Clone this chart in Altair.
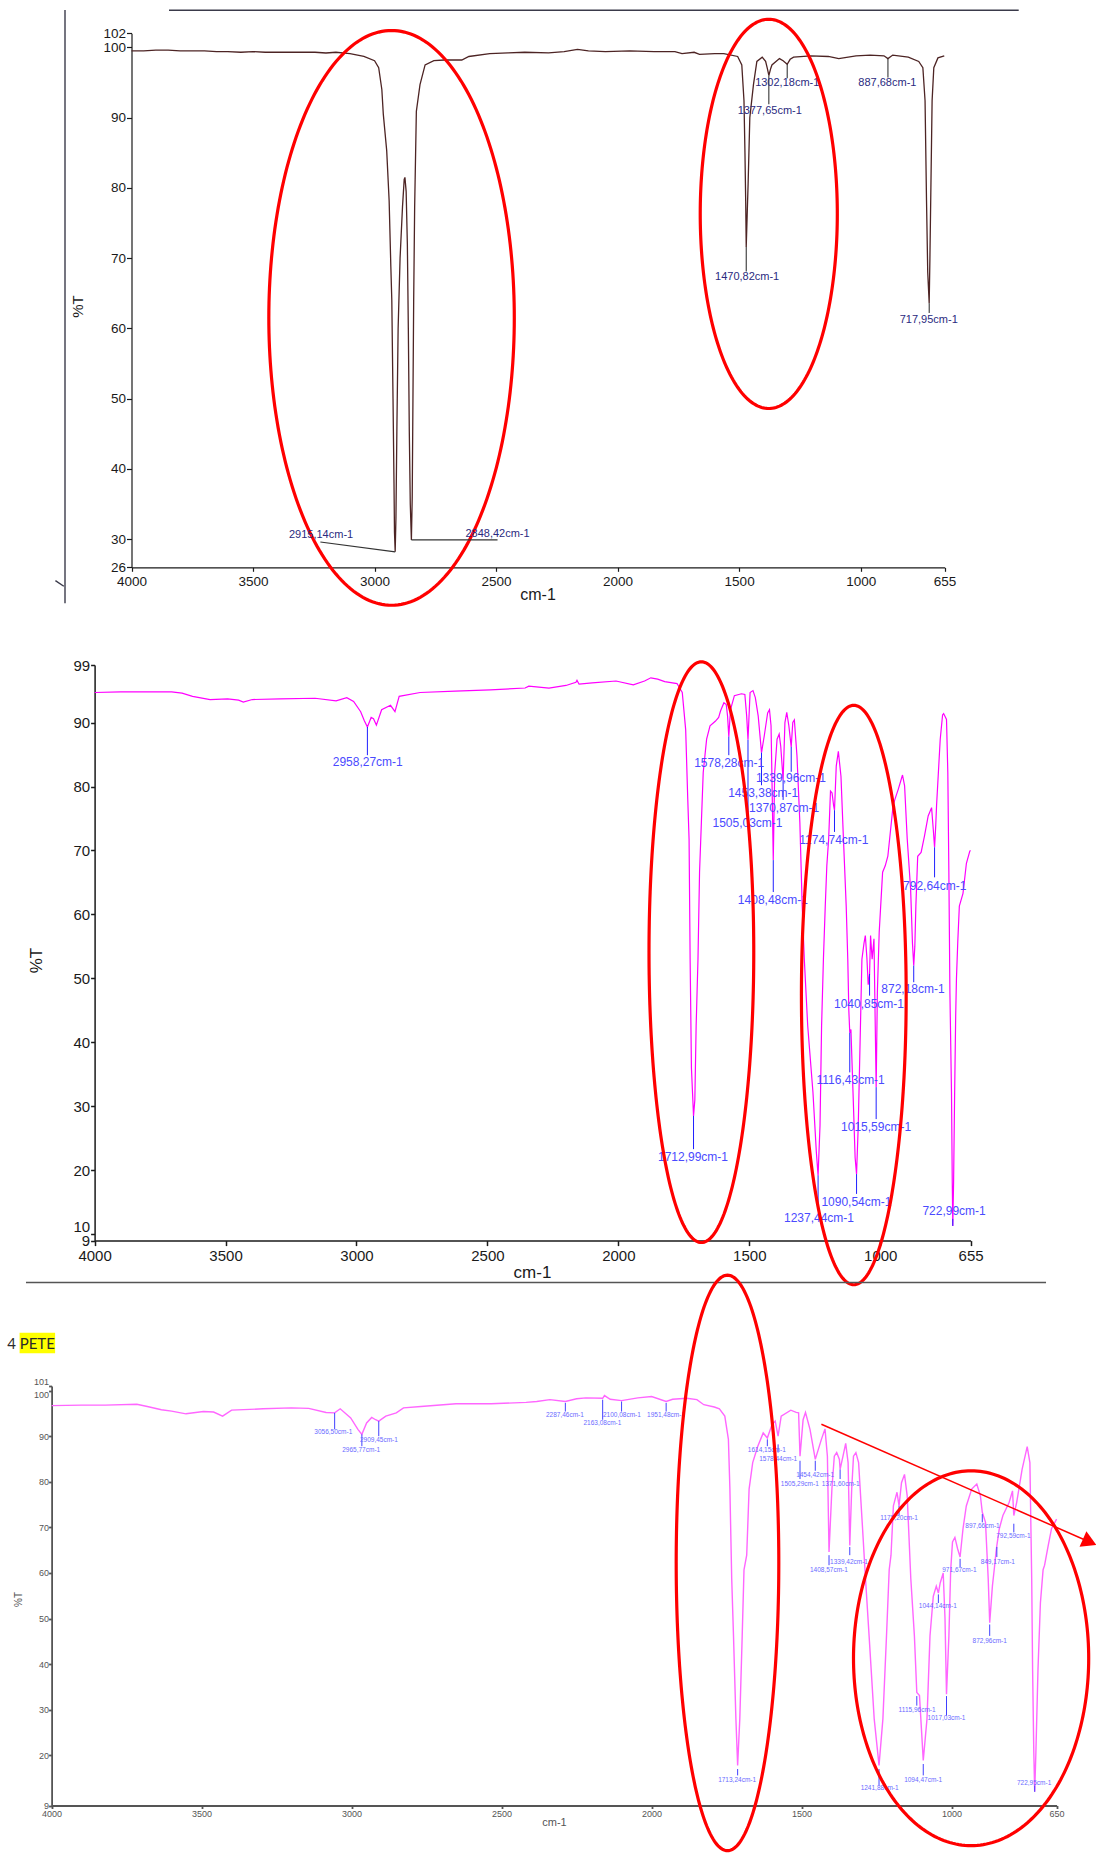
import altair as alt
import numpy as np
import pandas as pd

W, H = 1096, 1854
FONT = "Liberation Sans"

# ---------------- spectrum 1 (polyethylene) ----------------
P1_POINTS = [
    (4000, 99.5), (3950, 99.5), (3900, 99.6), (3849, 99.6), (3800, 99.5), (3748, 99.5),
    (3700, 99.5), (3650, 99.4), (3604, 99.4), (3550, 99.3), (3500, 99.4), (3450, 99.3),
    (3389, 99.3), (3300, 99.3), (3245, 99.3), (3200, 99.2), (3159, 99.3), (3101, 99.1),
    (3044, 98.7), (3000, 98.1), (2983, 97.1), (2970, 94.0), (2964, 90.5), (2950, 85.3),
    (2940, 78.2), (2933, 68.8), (2929, 64.0), (2924, 50.0), (2920, 38.0), (2918, 31.0),
    (2915.1, 28.2), (2912, 33.0), (2908, 46.0), (2903, 60.0), (2895, 70.0), (2885, 77.3),
    (2878, 81.2), (2875, 81.5), (2870, 79.5), (2865, 72.0), (2861, 60.0), (2857, 45.3),
    (2853, 35.0), (2848.4, 29.9), (2845, 36.0), (2842, 50.0), (2839, 64.0), (2835, 77.3),
    (2828, 90.9), (2813, 94.7), (2792, 97.5), (2756, 98.1), (2713, 98.2), (2641, 98.2),
    (2612, 98.7), (2526, 99.1), (2450, 99.2), (2382, 99.3), (2284, 99.2), (2220, 99.4),
    (2165, 99.7), (2120, 99.5), (2050, 99.4), (1950, 99.5), (1850, 99.4), (1764, 99.4),
    (1735, 99.1), (1685, 99.3), (1663, 99.0), (1600, 99.1), (1563, 99.1), (1506, 98.7),
    (1489, 97.5), (1480, 92.4), (1476, 85.0), (1473, 78.2), (1470.8, 71.6), (1467, 76.0),
    (1463, 80.6), (1456, 90.0), (1441, 94.7), (1427, 98.0), (1405, 98.6), (1391, 98.0),
    (1384, 97.0), (1377.7, 96.0), (1370, 97.0), (1365, 97.5), (1334, 98.4), (1319, 98.1),
    (1302.2, 97.6), (1290, 98.3), (1276, 98.6), (1205, 98.8), (1133, 98.7), (1090, 98.4),
    (1019, 98.8), (961, 98.9), (904, 98.8), (887.7, 98.4), (868, 98.9), (804, 98.6),
    (761, 98.0), (744, 97.1), (735, 92.4), (729, 78.2), (724, 68.0), (718, 63.6),
    (715, 70.0), (711, 80.0), (706, 92.4), (699, 97.1), (682, 98.5), (656, 98.8),
]
P1_PEAK_TEXT = ["1470,82cm-1", "1377,65cm-1", "1302,18cm-1", "887,68cm-1", "717,95cm-1"]
P1_PEAK_WN = [1470.8, 1377.7, 1302.2, 887.7, 718.0]
P1_PEAK_TOP = [71.6, 96.0, 97.6, 98.4, 63.6]
P1_PEAK_BOT = [68.1, 91.9, 95.6, 95.7, 62.2]
P1_LABEL_WN = [1467, 1374, 1302, 890, 720]
P1_LABEL_T = [67.3, 90.9, 94.9, 94.9, 61.2]
# labels with slanted / horizontal leaders
P1_LEAD_TEXT = ["2915,14cm-1", "2848,42cm-1"]
P1_LEAD_WN = [2915.1, 2848.4]
P1_LEAD_T = [28.2, 29.9]
P1_LEAD_WN2 = [3223, 2494]
P1_LEAD_T2 = [29.6, 29.9]
P1_LEAD_LABEL_WN = [3220, 2494]
P1_LEAD_LABEL_T = [30.6, 30.8]
P1_RINGS = [(2930, 61.5, 505, 40.9), (1378, 76.3, 282, 27.7)]

# ---------------- spectrum 2 ----------------
P2_POINTS = [
    (4000, 94.7), (3900, 94.8), (3786, 94.8), (3706, 94.8), (3666, 94.6), (3626, 94.1),
    (3559, 93.6), (3492, 93.7), (3450, 93.5), (3432, 93.2), (3398, 93.6), (3291, 93.7),
    (3158, 93.8), (3078, 93.4), (3037, 93.9), (3011, 93.3), (2984, 91.7), (2970, 90.3),
    (2958.3, 89.3), (2944, 90.8), (2935, 90.6), (2924, 89.6), (2904, 92.0), (2870, 92.7),
    (2853, 91.7), (2837, 94.1), (2757, 94.7), (2623, 94.9), (2489, 95.1), (2356, 95.4),
    (2342, 95.7), (2265, 95.4), (2200, 95.8), (2162, 96.3), (2158, 96.6), (2150, 96.0),
    (2100, 96.2), (2009, 96.5), (1943, 95.9), (1900, 96.5), (1876, 97.0), (1850, 96.8),
    (1823, 96.4), (1776, 96.1), (1756, 94.7), (1743, 88.9), (1735, 78.0), (1730, 71.8),
    (1726, 53.0), (1721, 36.0), (1713, 28.5), (1708, 31.0), (1703, 42.6), (1696, 53.0),
    (1690, 66.6), (1683, 74.4), (1676, 82.2), (1663, 87.4), (1650, 89.5), (1630, 90.2),
    (1617, 90.8), (1610, 91.8), (1597, 93.1), (1588, 92.8), (1583, 91.0), (1578.3, 87.8),
    (1572, 92.0), (1557, 94.2), (1530, 94.5), (1517, 94.4), (1510, 91.0), (1505, 87.3),
    (1500, 92.0), (1497, 94.7), (1486, 95.0), (1477, 93.9), (1466, 91.0), (1453.4, 85.3),
    (1443, 87.9), (1430, 91.5), (1423, 92.0), (1417, 89.5), (1413, 80.0), (1408.5, 68.5),
    (1403, 82.2), (1394, 87.4), (1386, 88.2), (1380, 86.3), (1370.9, 81.0), (1364, 90.0),
    (1357, 91.6), (1349, 89.5), (1340, 86.2), (1334, 90.0), (1328, 90.4), (1318, 84.8),
    (1307, 74.4), (1298, 61.3), (1290, 53.0), (1277, 42.6), (1257, 32.2), (1244, 22.8),
    (1237.4, 19.2), (1230, 27.0), (1224, 42.6), (1217, 53.0), (1210, 61.3), (1204, 67.6),
    (1197, 71.8), (1190, 79.3), (1184, 79.0), (1178, 77.0), (1174.7, 76.3), (1168, 83.2),
    (1160, 85.5), (1150, 81.6), (1141, 72.3), (1130, 61.3), (1124, 53.0), (1120, 45.0),
    (1116.4, 41.5), (1112, 42.0), (1104, 32.2), (1096, 22.0), (1090.5, 19.4), (1084, 27.0),
    (1077, 40.0), (1070, 53.0), (1062, 55.5), (1057, 56.7), (1051, 53.2), (1046, 49.0),
    (1040.8, 50.7), (1037, 56.7), (1031, 53.0), (1024, 56.2), (1020, 45.0), (1015.6, 33.0),
    (1011, 47.8), (1004, 57.2), (991, 66.6), (981, 67.6), (971, 69.1), (951, 77.0),
    (944, 78.0), (931, 79.6), (915, 81.8), (907, 80.1), (897, 71.8), (884, 63.9),
    (877, 55.5), (872.2, 52.0), (868, 55.0), (864, 61.3), (857, 69.1), (844, 69.7),
    (831, 72.3), (817, 75.4), (804, 76.7), (797, 73.0), (792.6, 70.5), (788, 74.0),
    (785, 77.0), (771, 87.4), (762, 91.2), (758, 91.4), (747, 90.5), (742, 82.2),
    (738, 66.6), (734, 47.8), (728, 32.2), (725, 18.0), (723, 11.3), (720, 18.0),
    (716, 32.0), (712, 44.0), (709, 50.0), (704, 55.7), (698, 61.3), (684, 63.3),
    (671, 68.0), (658, 69.9), (655, 70.0),
]
P2_PEAK_TEXT = ["2958,27cm-1", "1578,28cm-1", "1339,96cm-1", "1453,38cm-1", "1370,87cm-1",
                "1505,03cm-1", "1408,48cm-1", "1174,74cm-1", "792,64cm-1", "872,18cm-1",
                "1040,85cm-1", "1116,43cm-1", "1015,59cm-1", "1712,99cm-1", "1090,54cm-1",
                "1237,44cm-1", "722,99cm-1"]
P2_PEAK_WN = [2958.3, 1578.3, 1340, 1453.4, 1370.9, 1505, 1408.5, 1174.7, 792.6, 872.2,
              1040.8, 1116.4, 1015.6, 1713, 1090.5, 1237.4, 723]
P2_PEAK_TOP = [89.3, 87.8, 86.2, 85.3, 81.0, 87.3, 68.5, 76.3, 70.5, 52.0,
               50.7, 41.5, 33.0, 28.5, 19.4, 19.2, 12.4]
P2_PEAK_BOT = [84.9, 84.9, 82.3, 80.2, 77.9, 75.5, 63.5, 72.9, 65.8, 49.4,
               47.3, 35.3, 28.0, 23.3, 16.3, 14.5, 11.3]
P2_LABEL_WN = [2957, 1577, 1341, 1447, 1367, 1507, 1410, 1177, 792, 875,
               1043, 1113, 1016, 1715, 1091, 1234, 718]
P2_LABEL_T = [83.8, 83.6, 81.3, 79.0, 76.7, 74.3, 62.2, 71.7, 64.5, 48.3,
              46.0, 34.1, 26.8, 22.0, 15.1, 12.6, 13.7]
P2_RINGS = [(1683, 54.1, 200, 45.4), (1101, 47.4, 200, 45.3)]

# ---------------- spectrum 3 (PETE) ----------------
P3_POINTS = [
    (4000, 96.7), (3900, 96.8), (3821, 96.8), (3716, 97.0), (3681, 96.5), (3634, 95.8),
    (3600, 95.5), (3552, 94.9), (3494, 95.4), (3460, 95.3), (3430, 94.4), (3400, 95.7),
    (3295, 96.0), (3201, 96.2), (3143, 96.1), (3085, 95.2), (3056.5, 95.1), (3038, 96.0),
    (3003, 94.0), (2979, 91.5), (2965.8, 90.4), (2950, 92.9), (2933, 94.1), (2920, 93.6),
    (2909.5, 93.3), (2886, 94.4), (2851, 95.1), (2827, 96.2), (2769, 96.5), (2652, 97.1),
    (2535, 97.1), (2418, 97.4), (2383, 97.6), (2339, 98.0), (2287.5, 97.6), (2250, 98.2),
    (2219, 98.4), (2163.1, 98.3), (2157, 98.9), (2138, 98.1), (2100.1, 97.8), (2046, 98.4),
    (2000, 98.7), (1951.5, 97.6), (1930, 98.1), (1883, 98.3), (1849, 98.0), (1826, 96.9),
    (1791, 96.4), (1774, 96.0), (1756, 94.4), (1744, 89.3), (1739, 78.4), (1733, 58.8),
    (1727, 46.2), (1719, 28.0), (1713.2, 17.8), (1706, 28.0), (1698, 46.2), (1692, 60.7),
    (1683, 63.9), (1675, 78.4), (1663, 84.2), (1646, 87.8), (1628, 90.7), (1614.2, 89.6),
    (1599, 92.5), (1588, 93.3), (1578.4, 90.0), (1568, 94.4), (1536, 95.7), (1518, 95.2),
    (1510, 95.1), (1505.3, 85.6), (1495, 93.6), (1487, 95.2), (1472, 91.5), (1454.4, 84.9),
    (1434, 89.3), (1422, 91.6), (1414, 85.6), (1408.6, 64.6), (1399, 78.4), (1391, 85.6),
    (1383, 86.4), (1374, 84.9), (1371.6, 82.7), (1362, 85.6), (1353, 88.4), (1345, 84.2),
    (1339.4, 66.0), (1333, 78.4), (1327, 85.6), (1319, 86.4), (1310, 84.2), (1298, 71.1),
    (1287, 58.8), (1275, 46.2), (1258, 28.0), (1241.9, 17.8), (1229, 28.0), (1217, 46.2),
    (1208, 60.7), (1202, 63.9), (1194, 74.7), (1182, 77.7), (1175.2, 74.7), (1167, 79.8),
    (1157, 81.6), (1148, 76.9), (1136, 58.8), (1124, 46.2), (1116, 33.8), (1107, 33.1),
    (1098, 22.9), (1094.5, 18.9), (1082, 28.0), (1072, 46.2), (1061, 54.9), (1051, 57.1),
    (1044.1, 55.6), (1038, 57.8), (1028, 60.0), (1022, 50.0), (1017, 33.4), (1009, 46.2),
    (1003, 60.7), (997, 66.8), (989, 67.8), (980, 65.3), (971.7, 63.5), (962, 69.7),
    (951, 74.7), (933, 78.4), (916, 79.5), (904, 76.9), (897.7, 73.3), (887, 71.1),
    (878, 58.8), (873, 49.1), (864, 57.1), (858, 60.7), (852, 64.5), (849.2, 66.0),
    (841, 69.7), (829, 72.6), (808, 75.5), (797, 78.0), (792.6, 72.6), (783, 75.5),
    (765, 82.7), (748, 87.7), (739, 84.2), (733, 58.8), (730, 38.9), (726, 20.7),
    (723, 12.0), (719, 20.7), (712, 38.9), (704, 53.4), (695, 60.7), (690, 61.7),
    (678, 66.0), (667, 69.7), (650, 71.8),
]
P3_PEAK_TEXT = ["3056,50cm-1", "2965,77cm-1", "2909,45cm-1", "2287,46cm-1", "2163,08cm-1",
                "2100,08cm-1", "1951,48cm-1", "1614,15cm-1", "1578,44cm-1", "1505,29cm-1",
                "1454,42cm-1", "1371,60cm-1", "1408,57cm-1", "1339,42cm-1", "1175,20cm-1",
                "897,66cm-1", "792,59cm-1", "849,17cm-1", "971,67cm-1", "1044,14cm-1",
                "872,96cm-1", "1115,96cm-1", "1017,03cm-1", "1713,24cm-1", "1094,47cm-1",
                "1241,88cm-1", "722,95cm-1"]
P3_PEAK_WN = [3056.5, 2965.8, 2909.5, 2287.5, 2163.1, 2100.1, 1951.5, 1614.2, 1578.4, 1505.3,
              1454.4, 1371.6, 1408.6, 1339.4, 1175.2, 897.7, 792.6, 849.2, 971.7, 1044.1,
              873, 1116, 1017, 1713.2, 1094.5, 1241.9, 723]
P3_PEAK_TOP = [95.1, 90.4, 93.3, 97.3, 98.0, 97.6, 97.3, 89.3, 88.2, 84.6,
               84.6, 82.7, 63.9, 65.7, 74.7, 72.9, 70.8, 65.7, 63.1, 55.3,
               48.7, 33.0, 33.0, 17.0, 18.1, 17.0, 13.4]
P3_PEAK_BOT = [91.5, 87.8, 90.0, 95.4, 93.6, 95.4, 95.4, 87.8, 86.4, 80.6,
               82.4, 80.6, 61.7, 63.9, 72.6, 71.1, 68.9, 63.5, 61.3, 53.4,
               46.2, 30.9, 28.7, 15.6, 15.6, 13.4, 12.0]
P3_LABEL_WN = [3061, 2968, 2909, 2289, 2164, 2099, 1952, 1616, 1578, 1506,
               1455, 1370, 1409, 1342, 1175, 897, 794, 846, 974, 1046,
               873, 1115, 1017, 1715, 1095, 1240, 725]
P3_LABEL_T = [90.9, 87.0, 89.1, 94.6, 92.8, 94.6, 94.6, 87.0, 85.1, 79.6,
              81.5, 79.6, 60.6, 62.5, 72.0, 70.2, 68.2, 62.5, 60.6, 52.7,
              45.1, 30.0, 28.1, 14.7, 14.7, 12.8, 13.9]
P3_RINGS = [(1747, 62.2, 171, 63.1), (935, 41.3, 392, 41.1)]
P3_ARROW_WN = [1434, 540]
P3_ARROW_T = [92.6, 66.8]

# ---------------- scales: each spectrum gets its own slot on the page ----------------
def lin(domain, rng):
    return alt.Scale(domain=domain, range=rng, nice=False, zero=False)

SX1, SY1 = lin([4000, 655], [131.5, 944.5]), lin([26, 102], [567.3, 33.3])
SX2, SY2 = lin([4000, 655], [94.6, 970.6]), lin([9, 99], [1240.6, 665.0])
SX3, SY3 = lin([4000, 650], [51.6, 1056.6]), lin([9, 101], [1805.5, 1386.0])


def x_axis(values, ypos, size, pad, title_x, title_y, title_size, color, width):
    return alt.Axis(
        orient="bottom", offset=ypos - H, values=values, format="d", grid=False,
        labelOverlap=False, labelFlush=False, labelBound=False,
        tickSize=size[0], labelPadding=pad, labelFont=FONT, labelFontSize=size[1],
        labelColor=color, domainColor=color, tickColor=color, domainWidth=width,
        tickWidth=width, title="cm-1", titleFont=FONT, titleFontSize=title_size,
        titleFontWeight="normal", titleColor=color, titleX=title_x, titleY=title_y,
        titleAlign="center", titleBaseline="middle",
    )


def y_axis(values, xpos, size, pad, title_x, title_y, title_size, color, width, baseline):
    return alt.Axis(
        orient="left", offset=-xpos, values=values, format="d", grid=False,
        labelOverlap=False, labelFlush=False, labelBound=False,
        labelBaseline=alt.ExprRef(expr=baseline),
        tickSize=size[0], labelPadding=pad, labelFont=FONT, labelFontSize=size[1],
        labelColor=color, domainColor=color, tickColor=color, domainWidth=width,
        tickWidth=width, title="%T", titleFont=FONT, titleFontSize=title_size,
        titleFontWeight="normal", titleColor=color, titleX=title_x, titleY=title_y,
        titleAngle=270, titleAlign="center", titleBaseline="middle",
    )


def rings(shapes):
    rows = []
    t = np.linspace(0, 2 * np.pi, 241)
    for k, (cx, cy, rx, ry) in enumerate(shapes):
        for i, a in enumerate(t):
            rows.append({"id": k, "i": i, "x": cx + rx * np.cos(a), "y": cy + ry * np.sin(a)})
    return pd.DataFrame(rows)


def pos(sx, sy, xf, yf):
    return dict(x=alt.X(xf, type="quantitative", scale=sx, axis=None),
                y=alt.Y(yf, type="quantitative", scale=sy, axis=None))


def panel(points, sx, sy, xaxis, yaxis, line_color, line_width, peaks, tick_color,
          label_color, label_size, ring_shapes, ring_width):
    df = pd.DataFrame(points, columns=["wn", "t"])
    line = alt.Chart(df).mark_line(color=line_color, strokeWidth=line_width).encode(
        x=alt.X("wn:Q", scale=sx, axis=xaxis),
        y=alt.Y("t:Q", scale=sy, axis=yaxis),
    )
    text, wn, top, bot, lx, ly = peaks
    pk = pd.DataFrame({"label": text, "wn": wn, "top": top, "bot": bot, "lx": lx, "ly": ly})
    ticks = alt.Chart(pk).mark_rule(color=tick_color, strokeWidth=1).encode(
        **pos(sx, sy, "wn", "top"), y2="bot:Q")
    labels = alt.Chart(pk).mark_text(font=FONT, fontSize=label_size, color=label_color,
                                     align="center", baseline="middle").encode(
        **pos(sx, sy, "lx", "ly"), text="label:N")
    ring = alt.Chart(rings(ring_shapes)).mark_line(
        color="#ff0000", strokeWidth=ring_width, strokeCap="round").encode(
        **pos(sx, sy, "x", "y"), detail="id:N", order="i:Q")
    return [line, ticks, labels, ring]


layers = []

# ---- panel 1 ----
layers += panel(
    P1_POINTS, SX1, SY1,
    x_axis([4000, 3500, 3000, 2500, 2000, 1500, 1000, 655], 567.3, (4, 13.5), 3,
           537.5, 27.4, 16, "#1a1a1a", 1.2),
    y_axis([26, 30, 40, 50, 60, 70, 80, 90, 100, 102], 131.5, (5, 13.5), 1,
           -54, 306, 15, "#1a1a1a", 1.2, "'middle'"),
    "#4d2424", 1.3,
    (P1_PEAK_TEXT, P1_PEAK_WN, P1_PEAK_TOP, P1_PEAK_BOT, P1_LABEL_WN, P1_LABEL_T),
    "#222222", "#2a2a80", 11, P1_RINGS, 3.2,
)
lead = pd.DataFrame({"label": P1_LEAD_TEXT, "x1": P1_LEAD_WN, "y1": P1_LEAD_T,
                     "x2": P1_LEAD_WN2, "y2": P1_LEAD_T2,
                     "lx": P1_LEAD_LABEL_WN, "ly": P1_LEAD_LABEL_T})
layers.append(alt.Chart(lead).mark_rule(color="#333333", strokeWidth=1.2).encode(
    **pos(SX1, SY1, "x1", "y1"), x2="x2:Q", y2="y2:Q"))
layers.append(alt.Chart(lead).mark_text(font=FONT, fontSize=11, color="#2a2a80",
                                        align="center", baseline="middle").encode(
    **pos(SX1, SY1, "lx", "ly"), text="label:N"))
# frame lines around the first spectrum
frame1 = pd.DataFrame({"x1": [4273.6, 3845.7, 4313.1], "y1": [105.3, 105.27, 24.1],
                       "x2": [4273.6, 349.7, 4278.5], "y2": [20.9, 105.27, 23.3]})
layers.append(alt.Chart(frame1).mark_rule(color="#3a3a4a", strokeWidth=1.4).encode(
    **pos(SX1, SY1, "x1", "y1"), x2="x2:Q", y2="y2:Q"))

# ---- panel 2 ----
layers += panel(
    P2_POINTS, SX2, SY2,
    x_axis([4000, 3500, 3000, 2500, 2000, 1500, 1000, 655], 1240.6, (5, 15), 3,
           532, 32, 17, "#1a1a1a", 1.5),
    y_axis([9, 10, 20, 30, 40, 50, 60, 70, 80, 90, 99], 94.6, (4, 15), 1,
           -58, 960, 17, "#1a1a1a", 1.5,
           "datum.value == 10 ? 'bottom' : 'middle'"),
    "#ff00ff", 1.2,
    (P2_PEAK_TEXT, P2_PEAK_WN, P2_PEAK_TOP, P2_PEAK_BOT, P2_LABEL_WN, P2_LABEL_T),
    "#2020ff", "#4a4aff", 12, P2_RINGS, 3.2,
)
sep2 = pd.DataFrame({"x1": [4262], "y1": [2.45], "x2": [367], "y2": [2.45]})
layers.append(alt.Chart(sep2).mark_rule(color="#555555", strokeWidth=1.3).encode(
    **pos(SX2, SY2, "x1", "y1"), x2="x2:Q", y2="y2:Q"))

# ---- panel 3 ----
title3 = pd.DataFrame({"x1": [4106.7], "x2": [3988.3], "y1": [112.7], "y2": [108.2]})
layers.append(alt.Chart(title3).mark_rect(color="#ffff00").encode(
    **pos(SX3, SY3, "x1", "y1"), x2="x2:Q", y2="y2:Q"))
tag3 = pd.DataFrame({"label": ["4", "PETE"], "x": [4133, 4047.7], "y": [110.3, 110.3]})
layers.append(alt.Chart(tag3).mark_text(font="Lato", fontSize=15, color="#2b2b2b",
                                        align="center", baseline="middle").encode(
    **pos(SX3, SY3, "x", "y"), text="label:N"))
layers += panel(
    P3_POINTS, SX3, SY3,
    x_axis([4000, 3500, 3000, 2500, 2000, 1500, 1000, 650], 1805.5, (3, 9), 1,
           554, 17, 11, "#555555", 1.8),
    y_axis([9, 20, 30, 40, 50, 60, 70, 80, 90, 100, 101], 51.6, (3, 9), 0,
           -33, 1599, 10, "#555555", 1.8,
           "datum.value == 101 ? 'bottom' : (datum.value == 100 ? 'top' : 'middle')"),
    "#ff66ff", 1.4,
    (P3_PEAK_TEXT, P3_PEAK_WN, P3_PEAK_TOP, P3_PEAK_BOT, P3_LABEL_WN, P3_LABEL_T),
    "#4040ff", "#6a6aff", 6.5, P3_RINGS, 3.2,
)
arrow = pd.DataFrame({"wn": P3_ARROW_WN, "t": P3_ARROW_T})
layers.append(alt.Chart(arrow).mark_line(color="#ff0000", strokeWidth=1.5).encode(
    **pos(SX3, SY3, "wn", "t")))
layers.append(alt.Chart(arrow.tail(1)).mark_point(
    shape="triangle-right", filled=True, color="#ff0000", opacity=1, size=280, angle=24
).encode(**pos(SX3, SY3, "wn", "t")))

chart = (
    alt.layer(*layers)
    .resolve_scale(x="independent", y="independent")
    .properties(width=W, height=H, autosize=alt.AutoSizeParams(type="none"),
                padding=0, background="white")
    .configure_view(stroke=None)
)

chart.save("out.html", embed_options={"renderer": "svg", "actions": False})
